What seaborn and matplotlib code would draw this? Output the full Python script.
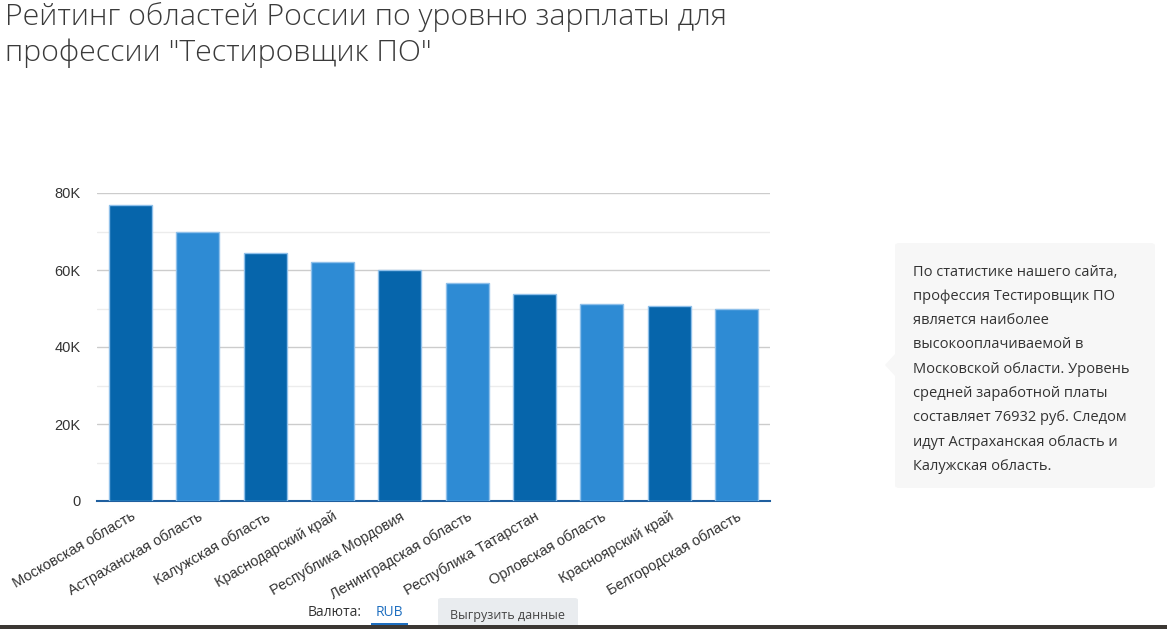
import numpy as np
import pandas as pd
import matplotlib.pyplot as plt
import seaborn as sns
from matplotlib.patches import FancyBboxPatch, Rectangle, Polygon
from matplotlib.ticker import FuncFormatter, MultipleLocator

# data
regions = ['Московская область', 'Астраханская область', 'Калужская область',
           'Краснодарский край', 'Республика Мордовия', 'Ленинградская область',
           'Республика Татарстан', 'Орловская область', 'Красноярский край',
           'Белгородская область']
salaries = [76932, 69800, 64300, 62000, 59900, 56500, 53700, 51100, 50600, 49800]

title_text = 'Рейтинг областей России по уровню зарплаты для\nпрофессии "Тестировщик ПО"'
note_lines = ['По статистике нашего сайта,',
              'профессия Тестировщик ПО',
              'является наиболее',
              'высокооплачиваемой в',
              'Московской области. Уровень',
              'средней заработной платы',
              'составляет 76932 руб. Следом',
              'идут Астраханская область и',
              'Калужская область.']

DARK = '#0665ab'
LIGHT = '#2e8bd4'

sns.set_style('white')
plt.rcParams['font.family'] = ['Open Sans', 'DejaVu Sans']

df = pd.DataFrame({'region': regions, 'salary': salaries})
palette = [DARK if i % 2 == 0 else LIGHT for i in range(len(regions))]

fig = plt.figure(figsize=(11.67, 6.29), dpi=100)
ax = fig.add_axes([97 / 1167, 1 - 501 / 629, 673 / 1167, 308 / 629])

sns.barplot(data=df, x='region', y='salary', hue='region', palette=palette,
            legend=False, width=0.64, edgecolor='#8fc0ea', linewidth=1,
            saturation=1, ax=ax, zorder=3)

ax.set_ylim(0, 80000)
ax.set_xlim(-0.5, len(regions) - 0.5)
ax.yaxis.set_major_locator(MultipleLocator(20000))
ax.yaxis.set_minor_locator(MultipleLocator(10000))
ax.yaxis.set_major_formatter(FuncFormatter(lambda v, p: '0' if v == 0 else f'{int(v / 1000)}K'))
ax.grid(True, axis='y', which='major', color='#cccccc', linewidth=1, zorder=0)
ax.grid(True, axis='y', which='minor', color='#ececec', linewidth=1, zorder=0)
for s in ['top', 'right', 'left']:
    ax.spines[s].set_visible(False)
ax.spines['bottom'].set_color('#1f5f9f')
ax.spines['bottom'].set_linewidth(1.5)
ax.set_xlabel('')
ax.set_ylabel('')
ax.tick_params(axis='y', length=0, labelsize=10.5, labelcolor='#333333', pad=12)
ax.tick_params(axis='x', length=0, labelsize=10.5, labelcolor='#333333', pad=6)
ax.set_xticks(range(len(regions)))
ax.set_xticklabels(regions, rotation=30, ha='right', rotation_mode='anchor',
                   family=['Liberation Sans', 'DejaVu Sans'])
for lbl in ax.get_yticklabels():
    lbl.set_family(['Liberation Sans', 'DejaVu Sans'])

# title
fig.text(5 / 1167, 1 - 2 / 629, title_text, fontsize=21.8, color='#3a3a3a',
         va='top', ha='left', linespacing=1.3, fontweight='light')

# side note box
box = FancyBboxPatch((895 / 1167, 1 - 488 / 629), 260 / 1167, 245 / 629,
                     boxstyle='round,pad=0,rounding_size=0.004',
                     transform=fig.transFigure, facecolor='#f7f7f7',
                     edgecolor='none')
fig.patches.append(box)
fig.patches.append(Polygon([(895 / 1167, 1 - 354 / 629), (885 / 1167, 1 - 365 / 629),
                            (895 / 1167, 1 - 376 / 629)], closed=True,
                           transform=fig.transFigure, facecolor='#f7f7f7',
                           edgecolor='none'))
for i, line in enumerate(note_lines):
    fig.text(913 / 1167, 1 - (272 + i * 24.3) / 629, line, fontsize=10.5,
             color='#333333', va='center', ha='left')

# bottom controls
fig.text(308 / 1167, 1 - 613 / 629, 'Валюта:', fontsize=10, color='#333333',
         va='center', ha='left')
fig.text(376 / 1167, 1 - 613 / 629, 'RUB', fontsize=10, color='#1f6fc0',
         va='center', ha='left')
fig.add_artist(Rectangle((371 / 1167, 1 - 625 / 629), 37 / 1167, 2 / 629,
                         transform=fig.transFigure, facecolor='#1f6fc0',
                         edgecolor='none'))
fig.add_artist(FancyBboxPatch((438 / 1167, 1 - 629 / 629), 140 / 1167, 31 / 629,
                              boxstyle='round,pad=0,rounding_size=0.003',
                              transform=fig.transFigure, facecolor='#e9ecef',
                              edgecolor='none'))
fig.text(508 / 1167, 1 - 616 / 629, 'Выгрузить данные', fontsize=9, color='#444444',
         va='center', ha='center')
fig.add_artist(Rectangle((0, 0), 1, 4 / 629, transform=fig.transFigure,
                         facecolor='#3b3733', edgecolor='none'))

plt.savefig('out.png', dpi=100)
